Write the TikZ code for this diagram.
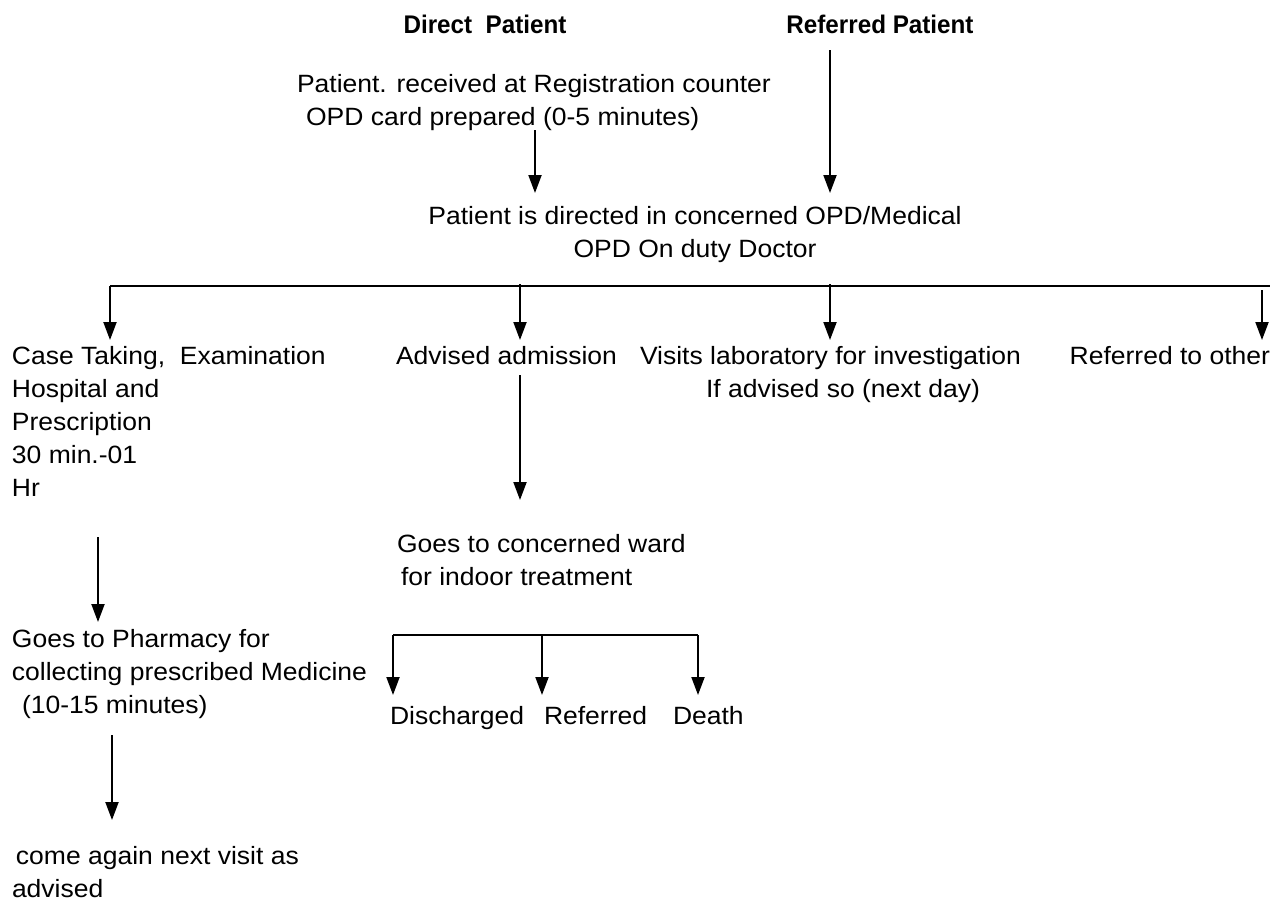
\documentclass[tikz,border=0pt]{standalone}
\usepackage{fontspec}
\setmainfont{Liberation Sans}[FakeStretch=1.06]
\newfontfamily\ttlfont{Liberation Sans}[FakeStretch=0.95]
\usetikzlibrary{arrows.meta}
\begin{document}
\begin{tikzpicture}[x=1pt,y=-1pt,
  txt/.style={inner sep=0pt,outer sep=0pt,font=\fontsize{25}{33}\selectfont,align=left},
  ttl/.style={inner sep=0pt,outer sep=0pt,font=\ttlfont\fontsize{25.5}{33}\selectfont\bfseries},
  link/.style={line width=2pt},
  arr/.style={line width=2pt,-{Triangle[length=18pt,width=13pt]}}]
\useasboundingbox (0,0) rectangle (1282,903);
% titles
\node[ttl] (direct) at (485,24) {Direct\ \ Patient};
\node[ttl] (referred) at (880,24) {Referred Patient};
% registration
\node[txt,anchor=north west] (reg) at (297,74) {Patient. received at Registration counter\\\hspace*{9pt}OPD card prepared (0-5 minutes)};
\coordinate (regout) at (535,130);
\coordinate (dirin1) at (535,193);
\coordinate (refout) at (830,50);
\coordinate (dirin2) at (830,193);
\draw[arr] (regout) -- (dirin1);
\draw[arr] (refout) -- (dirin2);
% directed
\node[txt,anchor=north,align=center] (directed) at (695,206) {Patient is directed in concerned OPD/Medical\\OPD On duty Doctor};
% bus
\coordinate (busL) at (110,286);
\coordinate (busR) at (1270,286);
\draw[link] (busL) -- (busR);
\coordinate (b2) at (520,284);
\coordinate (b3) at (830,284);
\coordinate (b4) at (1262,290);
\coordinate (c1) at (110,340);
\coordinate (c2) at (520,340);
\coordinate (c3) at (830,340);
\coordinate (c4) at (1262,340);
\draw[arr] (busL) -- (c1);
\draw[arr] (b2) -- (c2);
\draw[arr] (b3) -- (c3);
\draw[arr] (b4) -- (c4);
% row
\node[txt,anchor=north west] (case) at (12,346) {Case Taking,\ \ Examination\\Hospital and\\Prescription\\30 min.-01\\Hr};
\node[txt,anchor=north west] (admit) at (396,346) {Advised admission};
\node[txt,anchor=north west] (lab) at (640,346) {Visits laboratory for investigation\\\hspace*{66pt}If advised so (next day)};
\node[txt,anchor=north east] (other) at (1270,346) {Referred to other};
% admission branch
\coordinate (a1) at (520,375);
\coordinate (a2) at (520,500);
\draw[arr] (a1) -- (a2);
\node[txt,anchor=north west] (ward) at (397,534) {Goes to concerned ward\\\hspace*{4pt}for indoor treatment};
% case branch
\coordinate (p1) at (98,537);
\coordinate (p2) at (98,622);
\draw[arr] (p1) -- (p2);
\node[txt,anchor=north west] (pharm) at (12,629) {Goes to Pharmacy for\\collecting prescribed Medicine\\\hspace*{10pt}(10-15 minutes)};
% ward outcomes
\coordinate (wL) at (393,635);
\coordinate (wM) at (542,635);
\coordinate (wR) at (698,635);
\draw[link] (wL) -- (wR);
\coordinate (o1) at (393,695);
\coordinate (o2) at (542,695);
\coordinate (o3) at (698,695);
\draw[arr] (wL) -- (o1);
\draw[arr] (wM) -- (o2);
\draw[arr] (wR) -- (o3);
\node[txt,anchor=north west] (disch) at (390,706) {Discharged};
\node[txt,anchor=north west] (refd) at (544,706) {Referred};
\node[txt,anchor=north west] (death) at (673,706) {Death};
% pharmacy to revisit
\coordinate (r1) at (112,735);
\coordinate (r2) at (112,820);
\draw[arr] (r1) -- (r2);
\node[txt,anchor=north west] (again) at (12,846) {\hspace*{4pt}come again next visit as\\advised};
\end{tikzpicture}
\end{document}
